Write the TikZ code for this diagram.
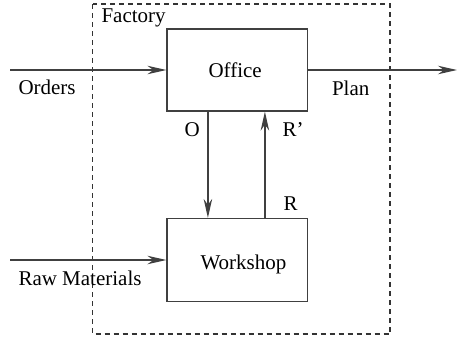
\documentclass[tikz,border=0pt]{standalone}
\usepackage{fontspec}
\setmainfont{Liberation Serif}
\usetikzlibrary{arrows.meta}
\begin{document}
\begin{tikzpicture}[x=1pt,y=-1pt,
  line width=1pt,
  every node/.style={font=\fontsize{21}{25}\selectfont},
  blockbox/.style={draw=black!75, line width=1.2pt, minimum width=140.5pt, minimum height=82pt, inner sep=0pt},
  region/.style={draw=black!80, line width=1.1pt, dash pattern=on 5pt off 4pt},
  flow/.style={draw=black!75, line width=1.3pt, -{Stealth[length=19pt,width=8.5pt,inset=6pt]}},
  lbl/.style={inner sep=0pt, anchor=base west}]
  \useasboundingbox (0,0) rectangle (457,338);

  % outer boundary
  \draw[region] (92.5,4) rectangle (390,334);
  \node[lbl] (factory) at (101,22) {Factory};

  % the two units
  \node[blockbox] (office) at (237.25,70) {};
  \node[blockbox, minimum height=83pt] (workshop) at (237.25,260) {};
  \node[lbl] (officetxt) at (208,77) {Office};
  \node[lbl] (workshoptxt) at (200,269) {Workshop};

  % external flows
  \coordinate (ordin) at (10,70);
  \coordinate (rawin) at (10,260);
  \coordinate (planout) at (457,70);
  \draw[flow] (ordin) -- (office.west);
  \draw[flow] (rawin) -- (workshop.west);
  \draw[flow] (office.east) -- (planout);
  \node[lbl] (orders) at (18,94) {Orders};
  \node[lbl] (raw) at (18,285) {Raw Materials};
  \node[lbl] (plan) at (331.5,95) {Plan};

  % internal flows
  \draw[flow] ([xshift=41.5pt]office.south west) -- ([xshift=41.5pt]workshop.north west);
  \draw[flow] ([xshift=98.5pt]workshop.north west) -- ([xshift=98.5pt]office.south west);
  \node[lbl] (o) at (184,136) {O};
  \node[lbl] (rp) at (282,136) {R'};
  \node[lbl] (r) at (283,210) {R};
\end{tikzpicture}
\end{document}
